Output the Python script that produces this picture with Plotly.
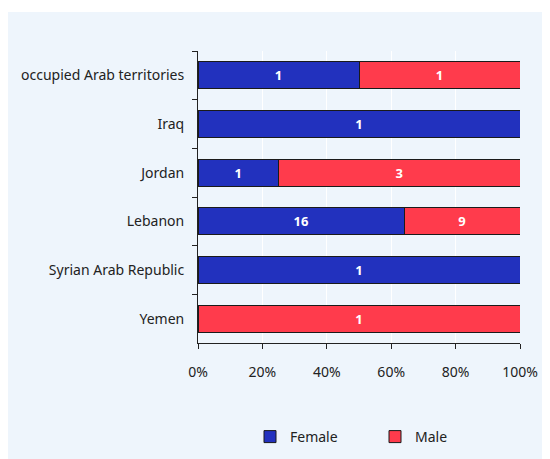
import plotly.graph_objects as go

categories = ["occupied Arab territories", "Iraq", "Jordan", "Lebanon", "Syrian Arab Republic", "Yemen"]
female = [1, 1, 1, 16, 1, 0]
male = [1, 0, 3, 9, 0, 1]
tick_vals = [0, 20, 40, 60, 80, 100]
tick_text = ["0%", "20%", "40%", "60%", "80%", "100%"]

FONT = "Noto Sans"
L, R, T, B = 190, 38, 43, 124
PW, PH = 550 - L - R, 459 - T - B

def txt(vals):
    return [str(v) if v > 0 else "" for v in vals]

fig = go.Figure()
fig.add_trace(go.Bar(
    y=categories, x=female, name="Female", orientation="h",
    marker=dict(color="#2231BE", line=dict(color="#1a1a1a", width=1)),
    text=txt(female), textposition="inside", insidetextanchor="middle",
    textfont=dict(color="white", size=13, family=FONT, weight="bold"),
))
fig.add_trace(go.Bar(
    y=categories, x=male, name="Male", orientation="h",
    marker=dict(color="#FF3B4C", line=dict(color="#1a1a1a", width=1)),
    text=txt(male), textposition="inside", insidetextanchor="middle",
    textfont=dict(color="white", size=13, family=FONT, weight="bold"),
))

fig.update_layout(
    width=550, height=459,
    barmode="stack", barnorm="percent", bargap=0.44,
    paper_bgcolor="white", plot_bgcolor="#F2F2F2",
    margin=dict(l=L, r=R, t=T, b=B),
    font=dict(family=FONT, size=14, color="#222222"),
    showlegend=True,
    legend=dict(orientation="h", x=(242 - L) / PW, xanchor="left",
                y=(459 - B - 429) / PH, yanchor="middle",
                entrywidth=80, font=dict(size=14, family=FONT), traceorder="normal",
                bgcolor="rgba(0,0,0,0)"),
    uniformtext=dict(mode="show", minsize=8),
    shapes=[dict(type="rect", xref="paper", yref="paper", layer="below",
                 x0=-L / PW, x1=1 + R / PW, y0=-B / PH, y1=1 + (T - 4) / PH,
                 fillcolor="#EEF5FC", line=dict(width=0))],
)
fig.update_xaxes(
    range=[0, 100], tickvals=tick_vals, ticktext=tick_text,
    showgrid=True, gridcolor="white", gridwidth=1,
    showline=True, linecolor="#222222", linewidth=1,
    ticks="outside", ticklen=5, tickcolor="#222222",
    zeroline=False, tickfont=dict(size=14), ticklabelstandoff=11,
)
fig.update_yaxes(
    categoryorder="array", categoryarray=categories, autorange="reversed",
    showline=True, linecolor="#222222", linewidth=1,
    ticks="outside", ticklen=5, tickcolor="#222222", tickson="boundaries",
    showgrid=False, ticklabelstandoff=10, tickfont=dict(size=14),
)

fig.write_html("out.html")
